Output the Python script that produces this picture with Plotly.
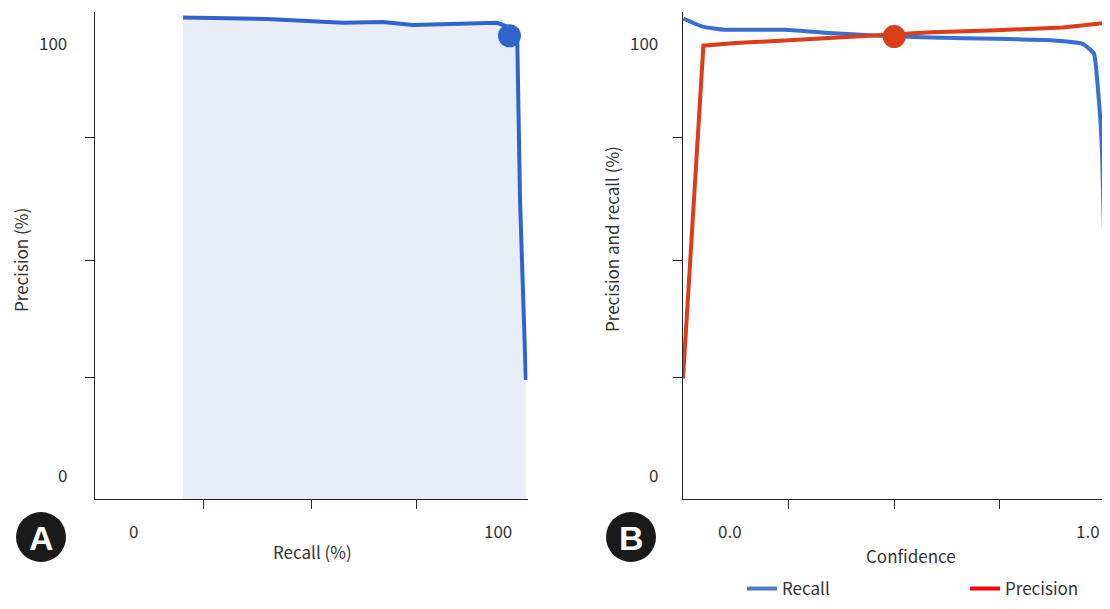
import plotly.graph_objects as go

# ---------------- data ----------------
# Panel A: precision-recall curve
pr_recall = [13.6, 36.6, 57.5, 68.5, 76.7, 86.9, 99.8, 105.3, 106.1, 107.7]
pr_precision = [105.8, 105.5, 104.6, 104.8, 104.1, 104.3, 104.6, 102.9, 63.6, 21.9]
pr_point_recall = [103.2]
pr_point_precision = [101.6]

# Panel B: precision and recall versus confidence
conf_recall = [-0.130, -0.076, -0.011, 0.153, 0.290, 0.417, 0.656, 0.746, 0.883,
               0.985, 1.017, 1.026, 1.035, 1.0395, 1.05]
recall_vals = [105.6, 103.7, 103.0, 103.0, 102.2, 101.6, 101.0, 100.9, 100.6,
               99.7, 97.5, 91.4, 82.1, 75.0, 40.0]
conf_prec = [-0.131, -0.074, 0.016, 0.290, 0.417, 0.564, 0.746, 0.930, 0.976, 1.040]
precision_vals = [22.2, 99.3, 99.9, 101.2, 101.6, 102.4, 102.9, 103.5, 103.9, 104.5]
cross_conf = [0.459]
cross_val = [101.4]

# axis ticks / labels
a_xticks = [19.1, 48.9, 77.8]
a_yticks = [22.4, 49.6, 78.0]
b_xticks = [0.1645, 0.4605, 0.753]
a_xlabels = [(0, "0"), (100, "100")]
b_xlabels = [(0.0, "0.0"), (1.0, "1.0")]
y_labels = [(0, "0"), (100, "100")]

# ---------------- styling ----------------
OFF = 8                      # page body margin of the browser
W, H = 1110 - 2 * OFF, 609 - 2 * OFF
FONT = "Noto Sans CJK KR"
TXT = "#333333"
BLUE_A = "#2F63CE"
BLUE_B = "#3A6ED2"
RED = "#DC3C17"
FILL = "#E9EDF8"
Y_MIN, Y_MAX = -5.65, 107.1
A_XR = [-10.57, 108.15]
B_XR = [-0.131, 1.0395]

def px_x(p):
    return (p - OFF) / W

def px_y(p):
    return 1 - (p - OFF) / H

fig = go.Figure()

# Panel A
fig.add_trace(go.Scatter(x=[pr_recall[0], pr_recall[-1]], y=[Y_MIN, Y_MIN],
                         mode="lines", line=dict(width=0), showlegend=False,
                         hoverinfo="skip", xaxis="x", yaxis="y"))
fig.add_trace(go.Scatter(x=pr_recall, y=pr_precision, mode="lines",
                         fill="tonexty", fillcolor=FILL,
                         line=dict(color=BLUE_A, width=4),
                         showlegend=False, xaxis="x", yaxis="y"))
fig.add_trace(go.Scatter(x=pr_point_recall, y=pr_point_precision, mode="markers",
                         marker=dict(color=BLUE_A, size=23), showlegend=False,
                         xaxis="x", yaxis="y"))

# Panel B
fig.add_trace(go.Scatter(x=conf_recall, y=recall_vals, mode="lines",
                         line=dict(color=BLUE_B, width=4, shape="spline", smoothing=0.4),
                         showlegend=False, xaxis="x2", yaxis="y2"))
fig.add_trace(go.Scatter(x=conf_prec, y=precision_vals, mode="lines",
                         line=dict(color=RED, width=4),
                         showlegend=False, xaxis="x2", yaxis="y2"))
fig.add_trace(go.Scatter(x=cross_conf, y=cross_val, mode="markers",
                         marker=dict(color=RED, size=23), showlegend=False,
                         xaxis="x2", yaxis="y2"))

# legend entries
fig.add_trace(go.Scatter(x=[None], y=[None], mode="lines", name="Recall",
                         line=dict(color="#4A7EBF", width=4), xaxis="x2", yaxis="y2"))
fig.add_trace(go.Scatter(x=[None], y=[None], mode="lines", name="Precision",
                         line=dict(color="#FF0000", width=4), xaxis="x2", yaxis="y2"))

ydom = [px_y(499), px_y(12)]
axis_common = dict(showgrid=False, zeroline=False, showline=True, linecolor="#222222",
                   linewidth=1.2, ticks="outside", ticklen=9, tickcolor="#222222",
                   tickwidth=1.2, fixedrange=True)

fig.update_layout(
    width=W, height=H,
    margin=dict(l=0, r=0, t=0, b=0, autoexpand=False),
    paper_bgcolor="white", plot_bgcolor="white",
    font=dict(family=FONT, size=17, color=TXT),
    xaxis=dict(domain=[px_x(95), px_x(527.5)], range=A_XR, anchor="y",
               tickvals=a_xticks, ticktext=[""] * len(a_xticks), **axis_common),
    yaxis=dict(domain=ydom, range=[Y_MIN, Y_MAX], anchor="x",
               tickvals=a_yticks, ticktext=[""] * len(a_yticks), **axis_common),
    xaxis2=dict(domain=[px_x(683), 1.0], range=B_XR, anchor="y2",
                tickvals=b_xticks, ticktext=[""] * len(b_xticks), **axis_common),
    yaxis2=dict(domain=ydom, range=[Y_MIN, Y_MAX], anchor="x2",
                tickvals=a_yticks, ticktext=[""] * len(a_yticks), **axis_common),
    legend=dict(orientation="h", x=px_x(742), xanchor="left", y=px_y(589),
                yanchor="middle", font=dict(size=17, color=TXT), entrywidth=178,
                entrywidthmode="pixels", bgcolor="rgba(0,0,0,0)", traceorder="normal",
                itemclick=False, itemdoubleclick=False),
)

ann = []
# y tick labels
for v, t in y_labels:
    ann.append(dict(x=px_x(69), xref="paper", y=v, yref="y", text=t, showarrow=False,
                    xanchor="right", yanchor="middle"))
    ann.append(dict(x=px_x(660), xref="paper", y=v, yref="y2", text=t, showarrow=False,
                    xanchor="right", yanchor="middle"))
# x tick labels
for v, t in a_xlabels:
    ann.append(dict(x=v, xref="x", y=px_y(530), yref="paper", text=t, showarrow=False,
                    xanchor="center", yanchor="middle"))
for v, t in b_xlabels:
    ann.append(dict(x=v, xref="x2", y=px_y(530), yref="paper", text=t, showarrow=False,
                    xanchor="center", yanchor="middle"))
# axis titles
ann.append(dict(x=px_x(313), y=px_y(551), xref="paper", yref="paper", text="Recall (%)",
                showarrow=False, xanchor="center", yanchor="middle"))
ann.append(dict(x=px_x(911), y=px_y(555), xref="paper", yref="paper", text="Confidence",
                showarrow=False, xanchor="center", yanchor="middle"))
ann.append(dict(x=px_x(20), y=px_y(260), xref="paper", yref="paper", text="Precision (%)",
                showarrow=False, textangle=-90, xanchor="center", yanchor="middle"))
ann.append(dict(x=px_x(611), y=px_y(239), xref="paper", yref="paper",
                text="Precision and recall (%)", showarrow=False, textangle=-90,
                xanchor="center", yanchor="middle"))
# panel badges
shapes = []
for cx, cy, letter in [(41, 537, "A"), (631, 537, "B")]:
    shapes.append(dict(type="circle", xref="paper", yref="paper", xsizemode="pixel",
                       ysizemode="pixel", xanchor=px_x(cx), yanchor=px_y(cy),
                       x0=-25, x1=25, y0=-25, y1=25, fillcolor="#1a1a1a",
                       line=dict(width=0)))
    ann.append(dict(x=px_x(cx), y=px_y(cy + 1), xref="paper", yref="paper",
                    text="<b>%s</b>" % letter, showarrow=False, xanchor="center",
                    yanchor="middle",
                    font=dict(family="Liberation Sans", size=34, color="white")))

fig.update_layout(annotations=ann, shapes=shapes)
fig.write_html("out.html")
